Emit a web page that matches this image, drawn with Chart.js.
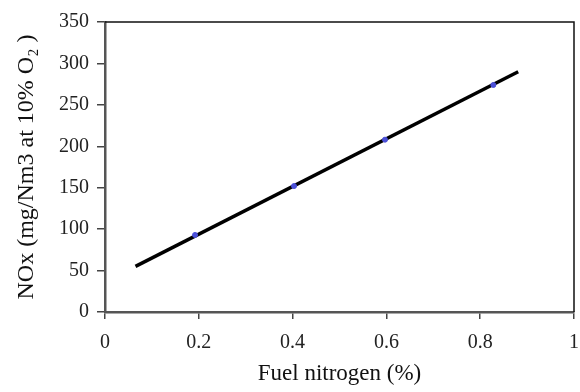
<!DOCTYPE html>
<html>
<head>
<meta charset="utf-8">
<script src="https://cdn.jsdelivr.net/npm/chart.js@4"></script>
<style>
  html, body { margin: 0; padding: 0; background: #fff; }
  #wrap { width: 580px; height: 392px; }
</style>
</head>
<body>
<div id="wrap"><canvas id="chart" width="580" height="392"></canvas></div>
<script>
// Measured points (blue markers)
const fuelN = [0.192, 0.403, 0.597, 0.828];
const noxMeasured = [93, 152, 208, 274];

// Linear fit line end points
const fitX = [0.065, 0.881];
const fitY = [55, 290];

const xTicks = [0, 0.2, 0.4, 0.6, 0.8, 1];
const yTicks = [0, 50, 100, 150, 200, 250, 300, 350];

const serif = "'Liberation Serif', 'Times New Roman', serif";

// Draws the thin frame on top and right of the plot area
const frame = {
  id: 'frame',
  afterDraw(chart) {
    const { ctx, chartArea: a } = chart;
    ctx.save();
    ctx.strokeStyle = '#111';
    ctx.lineWidth = 1.5;
    ctx.beginPath();
    ctx.moveTo(a.left, a.top);
    ctx.lineTo(a.right, a.top);
    ctx.lineTo(a.right, a.bottom);
    ctx.stroke();
    ctx.restore();
  }
};

const ctx = document.getElementById('chart').getContext('2d');
new Chart(ctx, {
  type: 'scatter',
  data: {
    datasets: [
      {
        label: 'Measured',
        data: fuelN.map((x, i) => ({ x: x, y: noxMeasured[i] })),
        backgroundColor: '#4b50d8',
        borderColor: '#4b50d8',
        pointRadius: 2.5,
        order: 0
      },
      {
        label: 'Fit',
        data: fitX.map((x, i) => ({ x: x, y: fitY[i] })),
        showLine: true,
        borderColor: '#000',
        borderWidth: 3.5,
        pointRadius: 0,
        order: 1
      }
    ]
  },
  options: {
    responsive: false,
    animation: false,
    layout: { padding: { top: 22, right: 6, left: 0, bottom: 0 } },
    plugins: {
      legend: { display: false },
      tooltip: { enabled: false }
    },
    scales: {
      x: {
        type: 'linear',
        min: 0,
        max: 1,
        afterBuildTicks: (s) => { s.ticks = xTicks.map(v => ({ value: v })); },
        afterFit: (s) => { s.height = 80; s.paddingRight = 0; s.paddingLeft = 0; },
        grid: { drawOnChartArea: false, drawTicks: true, tickLength: 7, color: '#444', lineWidth: 1.5 },
        border: { color: '#555', width: 2.5 },
        ticks: {
          color: '#222',
          padding: 12,
          maxRotation: 0,
          font: { family: serif, size: 20 },
          callback: (v) => String(v)
        },
        title: {
          display: true,
          text: 'Fuel nitrogen (%)',
          color: '#111',
          font: { family: serif, size: 23 },
          padding: { top: 0 }
        }
      },
      y: {
        type: 'linear',
        min: 0,
        max: 350,
        afterBuildTicks: (s) => { s.ticks = yTicks.map(v => ({ value: v })); },
        afterFit: (s) => { s.width = 105; },
        grid: { drawOnChartArea: false, drawTicks: true, tickLength: 8, color: '#444', lineWidth: 1.5 },
        border: { color: '#555', width: 2.5 },
        ticks: {
          color: '#222',
          padding: 8,
          font: { family: serif, size: 20 },
          callback: (v) => String(v)
        },
        title: {
          display: true,
          text: 'NOx (mg/Nm3 at 10% O\u2082 )',
          color: '#111',
          font: { family: serif, size: 24 },
          padding: { top: 12, bottom: 0 }
        }
      }
    }
  },
  plugins: [frame]
});
</script>
</body>
</html>
